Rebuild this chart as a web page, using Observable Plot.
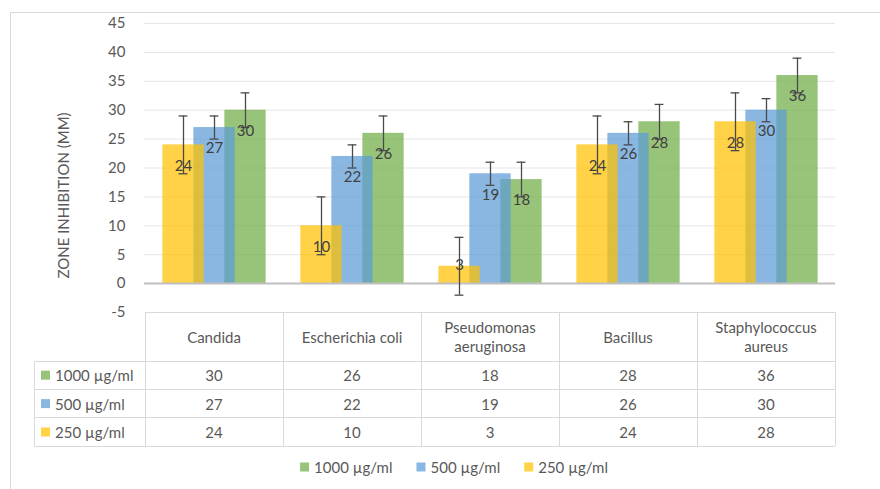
<!DOCTYPE html>
<html><head><meta charset="utf-8">
<script src="https://cdn.jsdelivr.net/npm/d3@7"></script>
<script src="https://cdn.jsdelivr.net/npm/@observablehq/plot@0.6"></script>
<style>
body{margin:0;background:#fff;}
#chart{position:relative;width:880px;height:489px;overflow:hidden;background:#fff;}
</style></head><body><div id="chart"></div>
<script>
// ---- data ----
const categories = ["Candida", "Escherichia coli", "Pseudomonas aeruginosa", "Bacillus", "Staphylococcus aureus"];
const seriesNames = ["1000 µg/ml", "500 µg/ml", "250 µg/ml"];
const values1000 = [30, 26, 18, 28, 36];
const values500 = [27, 22, 19, 26, 30];
const values250 = [24, 10, 3, 24, 28];
const errors1000 = [3, 3, 3, 3, 3];
const errors500 = [2, 2, 2, 2, 2];
const errors250 = [5, 5, 5, 5, 5];
const yTicks = [-5, 0, 5, 10, 15, 20, 25, 30, 35, 40, 45];
const yLabel = "ZONE INHIBITION (MM)";

// ---- styles / layout ----
const seriesColors = {"1000 µg/ml": "#70AD47", "500 µg/ml": "#5B9BD5", "250 µg/ml": "#FFC000"};
const seriesShift = {"1000 µg/ml": 31, "500 µg/ml": 0, "250 µg/ml": -31};
const seriesValues = {"1000 µg/ml": values1000, "500 µg/ml": values500, "250 µg/ml": values250};
const seriesErrors = {"1000 µg/ml": errors1000, "500 µg/ml": errors500, "250 µg/ml": errors250};
const FONT = "Lato, 'Open Sans', sans-serif";
const TEXT = "#595959", LABEL = "#404040", LINE = "#d9d9d9", ERR = "#4a4a4a";
const OPAC = 0.72;

const data = seriesNames.flatMap(s => categories.map((c, i) => ({
  category: c, series: s, value: seriesValues[s][i], err: seriesErrors[s][i]
})));

const W = 880, H = 489, mL = 144, mR = 45, mT = 23, mB = 177;
const bandW = (W - mL - mR) / categories.length;
const barW = 41.5, capW = 9;
const barInset = (bandW - barW) / 2, capInset = (bandW - capW) / 2;

const marks = [Plot.ruleY(yTicks.filter(t => t > 0), {stroke: "#e6e6e6", strokeWidth: 1})];
for (const s of seriesNames) {
  marks.push(Plot.barY(data.filter(d => d.series === s), {
    x: "category", y: "value", fill: seriesColors[s], fillOpacity: OPAC,
    dx: seriesShift[s], insetLeft: barInset, insetRight: barInset
  }));
}
marks.push(Plot.ruleY([0], {stroke: "#bfbfbf", strokeWidth: 2}));
for (const s of seriesNames) {
  const sub = data.filter(d => d.series === s);
  marks.push(Plot.ruleX(sub, {x: "category", y1: d => d.value - d.err, y2: d => d.value + d.err, dx: seriesShift[s], stroke: ERR, strokeWidth: 1.3}));
  marks.push(Plot.tickY(sub, {x: "category", y: d => d.value + d.err, dx: seriesShift[s], insetLeft: capInset, insetRight: capInset, stroke: ERR, strokeWidth: 1.3}));
  marks.push(Plot.tickY(sub, {x: "category", y: d => d.value - d.err, dx: seriesShift[s], insetLeft: capInset, insetRight: capInset, stroke: ERR, strokeWidth: 1.3}));
  marks.push(Plot.text(sub.filter(d => d.value >= 7), {x: "category", y: "value", text: d => String(d.value), dx: seriesShift[s], dy: 21, fill: LABEL, fontSize: 15}));
  marks.push(Plot.text(sub.filter(d => d.value < 7), {x: "category", y: "value", text: d => String(d.value), dx: seriesShift[s], dy: -1, fill: LABEL, fontSize: 15}));
}

const plot = Plot.plot({
  width: W, height: H, marginLeft: mL, marginRight: mR, marginTop: mT, marginBottom: mB,
  style: {fontFamily: FONT, fontSize: "15px", color: TEXT, background: "transparent", overflow: "visible"},
  x: {domain: categories, padding: 0, axis: null},
  y: {domain: [-5, 45], ticks: yTicks, tickSize: 0, tickPadding: 19, tickFormat: d => String(d), label: null},
  marks
});
document.getElementById("chart").append(plot);

// ---- extras: frame, y label, data table, legend ----
const svg = d3.select(plot);
const xs = plot.scale("x"), ys = plot.scale("y");
const bw = xs.bandwidth;

svg.insert("rect", ":first-child")
  .attr("x", 10.5).attr("y", 12.5).attr("width", 900).attr("height", 500)
  .attr("fill", "none").attr("stroke", LINE);

svg.append("text").text(yLabel)
  .attr("transform", `translate(63,${(ys.apply(45) + ys.apply(-5)) / 2 + 28}) rotate(-90)`)
  .attr("text-anchor", "middle").attr("dominant-baseline", "central")
  .attr("fill", TEXT).style("font-size", "15px").style("font-family", FONT);

const tTop = ys.apply(-5);
const headerH = 49, rowH = 28.4, rowLeft = 34;
const xLeft = xs.apply(categories[0]);
const xRight = xs.apply(categories[categories.length - 1]) + bw;
const tBottom = tTop + headerH + rowH * seriesNames.length;
const tg = svg.append("g").attr("stroke", LINE).attr("stroke-width", 1).attr("shape-rendering", "crispEdges");
tg.append("line").attr("x1", xLeft).attr("x2", xRight).attr("y1", tTop).attr("y2", tTop);
for (let r = 0; r <= seriesNames.length; r++) {
  const y = tTop + headerH + rowH * r;
  tg.append("line").attr("x1", rowLeft).attr("x2", xRight).attr("y1", y).attr("y2", y);
}
tg.append("line").attr("x1", rowLeft).attr("x2", rowLeft).attr("y1", tTop + headerH).attr("y2", tBottom);
for (let i = 0; i <= categories.length; i++) {
  const x = i < categories.length ? xs.apply(categories[i]) : xRight;
  tg.append("line").attr("x1", x).attr("x2", x).attr("y1", tTop).attr("y2", tBottom);
}
const txt = svg.append("g").attr("fill", TEXT).style("font-size", "15px").style("font-family", FONT);
categories.forEach(c => {
  const cx = xs.apply(c) + bw / 2, cy = tTop + headerH / 2;
  const lines = c.length > 16 ? c.split(" ") : [c];
  const t = txt.append("text").attr("text-anchor", "middle");
  lines.forEach((l, k) => {
    t.append("tspan").attr("x", cx).attr("y", cy + (k - (lines.length - 1) / 2) * 19)
      .attr("dominant-baseline", "central").text(l);
  });
});
seriesNames.forEach((s, r) => {
  const cy = tTop + headerH + rowH * r + rowH / 2;
  svg.append("rect").attr("x", rowLeft + 7).attr("y", cy - 4.5).attr("width", 9).attr("height", 9)
    .attr("fill", seriesColors[s]).attr("fill-opacity", OPAC);
  txt.append("text").attr("x", rowLeft + 21).attr("y", cy).attr("text-anchor", "start")
    .attr("dominant-baseline", "central").text(s);
  categories.forEach((c, i) => {
    txt.append("text").attr("x", xs.apply(c) + bw / 2).attr("y", cy).attr("text-anchor", "middle")
      .attr("dominant-baseline", "central").text(String(seriesValues[s][i]));
  });
});

// legend
const lg = svg.append("g").style("font-size", "15px").style("font-family", FONT);
const legY = 467;
let lx = 0;
seriesNames.forEach(s => {
  const g = lg.append("g");
  g.append("rect").attr("x", lx).attr("y", legY - 4.5).attr("width", 9).attr("height", 9)
    .attr("fill", seriesColors[s]).attr("fill-opacity", OPAC);
  const t = g.append("text").attr("x", lx + 14).attr("y", legY).attr("text-anchor", "start")
    .attr("dominant-baseline", "central").attr("fill", TEXT).text(s);
  lx += 14 + t.node().getComputedTextLength() + 24;
});
const totalW = lx - 24;
lg.attr("transform", `translate(${454 - totalW / 2},0)`);
</script></body></html>
